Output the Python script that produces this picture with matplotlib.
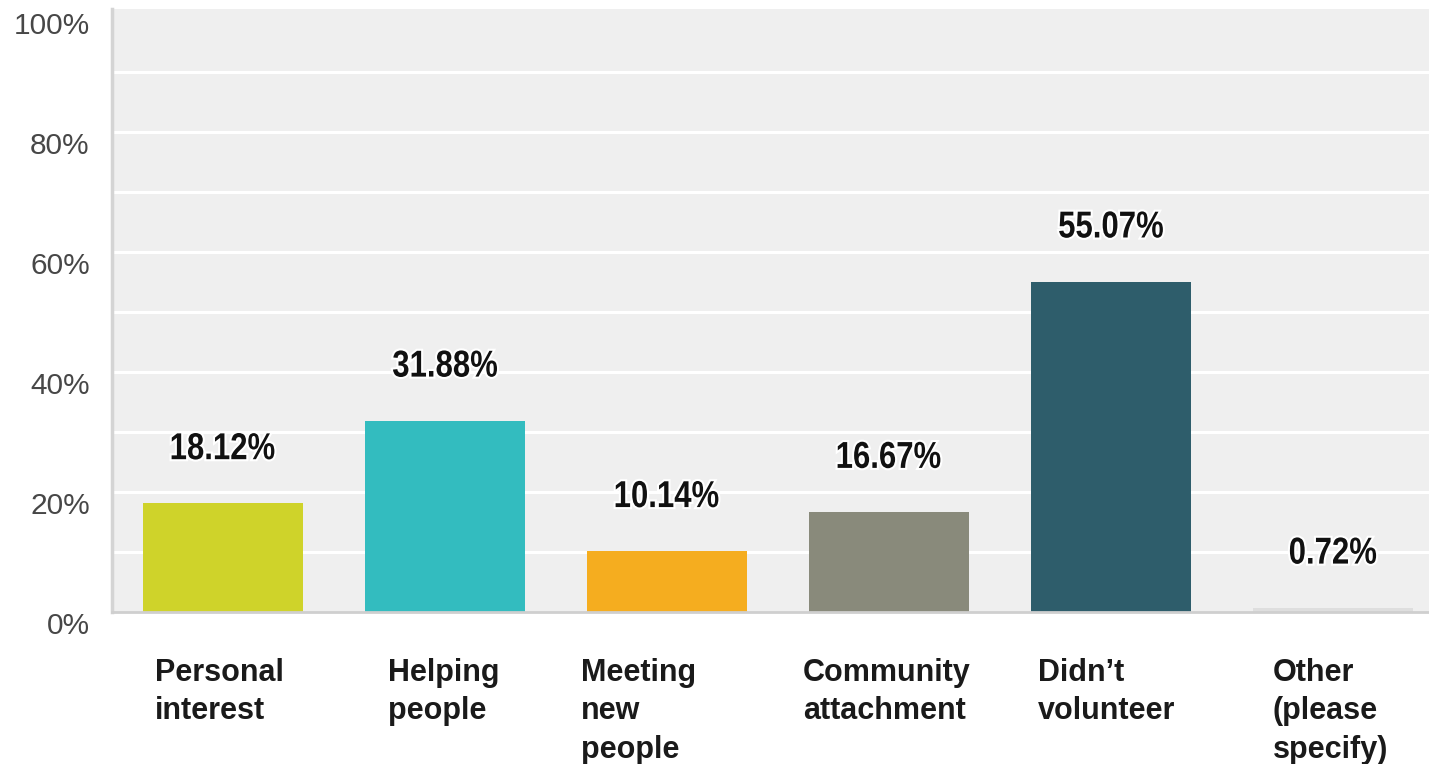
import matplotlib.pyplot as plt
import matplotlib.patheffects as pe
from matplotlib.font_manager import FontProperties
from matplotlib.patches import PathPatch
from matplotlib.textpath import TextPath
from matplotlib.transforms import Affine2D, ScaledTranslation, offset_copy

# survey answers and shares (%)
categories = ["Personal\ninterest", "Helping\npeople", "Meeting\nnew\npeople",
              "Community\nattachment", "Didn\u2019t\nvolunteer", "Other\n(please\nspecify)"]
values = [18.12, 31.88, 10.14, 16.67, 55.07, 0.72]
colors = ["#cfd32a", "#33bcbf", "#f5ad1f", "#898a7b", "#2e5d6b", "#dedede"]
yticks = [0, 20, 40, 60, 80, 100]
ytick_labels = ["0%", "20%", "40%", "60%", "80%", "100%"]

# left edge of each category label, px from the bar centre
label_shift = [-68, -57, -86, -86, -73, -60]

DPI = 100
fig = plt.figure(figsize=(14.29, 7.64), dpi=DPI)
ax = fig.add_axes([112 / 1429, 152 / 764, 1332 / 1429, 603 / 764])
ax.set_facecolor("#efefef")

x = list(range(len(values)))
ax.bar(x, values, width=0.72, color=colors, zorder=3)

ax.set_xlim(-0.5, len(values) - 0.5)
ax.set_ylim(0, 100.5)

# white grid every 10%
for y in range(10, 100, 10):
    ax.axhline(y, color="white", lw=2.2, zorder=1)

ax.set_yticks(yticks)
ax.set_yticklabels(ytick_labels, fontsize=21.5, color="#474747", family="Liberation Sans")
for lab in ax.get_yticklabels():
    lab.set_verticalalignment("top")
ax.tick_params(axis="y", length=0, pad=16)
ax.set_xticks([])

for side in ["top", "right"]:
    ax.spines[side].set_visible(False)
ax.spines["left"].set_color("#d4d4d4")
ax.spines["left"].set_linewidth(2.5)
ax.spines["bottom"].set_color("#cfcfcf")
ax.spines["bottom"].set_linewidth(2)
ax.spines["left"].set_zorder(4)
ax.spines["bottom"].set_zorder(4)


def condensed_label(s, xd, yd, dy_px, size=27, squeeze=0.83):
    """Bold label squeezed horizontally, centred dy_px above a data point."""
    prop = FontProperties(family="Liberation Sans", weight="bold")
    tp = TextPath((0, 0), s, size=size, prop=prop)
    ext = tp.get_extents()
    k = DPI / 72.0
    tr = (Affine2D()
          .translate(-(ext.x0 + ext.x1) / 2, -(ext.y0 + ext.y1) / 2)
          .scale(k * squeeze, k)
          .translate(0, dy_px)
          + ScaledTranslation(xd, yd, ax.transData))
    patch = PathPatch(tp, transform=tr, facecolor="#111111", edgecolor="none",
                      zorder=5, clip_on=False,
                      path_effects=[pe.withStroke(linewidth=3, foreground="white")])
    fig.add_artist(patch)


# value labels above bars
for xi, v in zip(x, values):
    condensed_label(f"{v:.2f}%", xi, v, 57)

# category labels under the axis
trans = ax.get_xaxis_transform()
for xi, name, dx in zip(x, categories, label_shift):
    t = offset_copy(trans, fig=fig, x=dx, y=-46, units="dots")
    ax.text(xi, 0, name, transform=t, ha="left", va="top", fontsize=22,
            fontweight="bold", family="Liberation Sans", color="#1a1a1a",
            linespacing=1.36, clip_on=False)

fig.savefig("out.png", dpi=DPI, facecolor="white")
